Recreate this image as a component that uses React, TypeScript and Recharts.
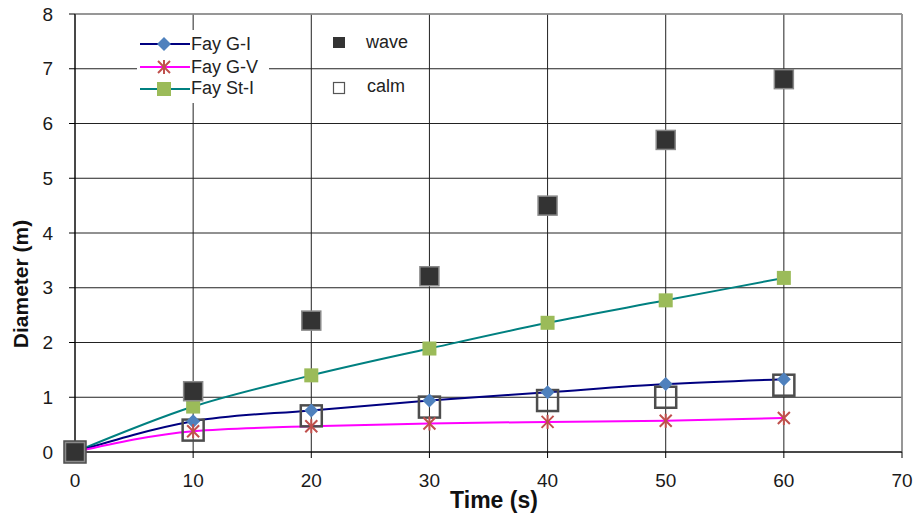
import React from "react";
import {
  ComposedChart,
  Line,
  Scatter,
  XAxis,
  YAxis,
  CartesianGrid,
  ReferenceLine,
} from "recharts";

const time = [0, 10, 20, 30, 40, 50, 60];
const fayGI = [0, 0.56, 0.76, 0.94, 1.09, 1.24, 1.33];
const fayGV = [0, 0.38, 0.47, 0.52, 0.55, 0.57, 0.62];
const fayStI = [0, 0.83, 1.4, 1.89, 2.36, 2.77, 3.18];
const wave = [0, 1.11, 2.4, 3.21, 4.5, 5.7, 6.81];
const calm = [0, 0.4, 0.66, 0.82, 0.94, 1.0, 1.22];

const xTicks = [0, 10, 20, 30, 40, 50, 60, 70];
const yTicks = [0, 1, 2, 3, 4, 5, 6, 7, 8];

const data = time.map((t, i) => ({
  t,
  fayGI: fayGI[i],
  fayGV: fayGV[i],
  fayStI: fayStI[i],
  wave: wave[i],
  calm: calm[i],
}));

const font = "'Liberation Sans', Arial, sans-serif";

function Diamond({ cx, cy }: any) {
  const r = 7;
  return (
    <polygon
      points={`${cx},${cy - r} ${cx + r},${cy} ${cx},${cy + r} ${cx - r},${cy}`}
      fill="#4f81bd"
    />
  );
}

function Star({ cx, cy }: any) {
  const r = 6;
  return (
    <g stroke="#c0504d" strokeWidth={2}>
      <line x1={cx - r} y1={cy - r} x2={cx + r} y2={cy + r} />
      <line x1={cx - r} y1={cy + r} x2={cx + r} y2={cy - r} />
      <line x1={cx} y1={cy - r - 1} x2={cx} y2={cy + r + 1} />
    </g>
  );
}

function GreenSquare({ cx, cy }: any) {
  return <rect x={cx - 7} y={cy - 7} width={14} height={14} fill="#9bbb59" />;
}

function WaveSquare({ cx, cy }: any) {
  return (
    <rect
      x={cx - 9.5}
      y={cy - 9.5}
      width={19}
      height={19}
      fill="#333333"
      stroke="#8a8a8a"
      strokeWidth={1.5}
    />
  );
}

function CalmSquare({ cx, cy }: any) {
  return (
    <rect
      x={cx - 10.5}
      y={cy - 10.5}
      width={21}
      height={21}
      fill="none"
      stroke="#4d4d4d"
      strokeWidth={2.5}
    />
  );
}

const tickStyle = { fontFamily: font, fontSize: 19, fill: "#1a1a1a" };

function YTitle() {
  return (
    <text
      x={20}
      y={284}
      transform="rotate(-90 20 284)"
      textAnchor="middle"
      dominantBaseline="central"
      fontFamily={font}
      fontSize={21}
      fontWeight="bold"
      fill="#111"
    >
      Diameter (m)
    </text>
  );
}

function XTitle() {
  return (
    <text
      x={494}
      y={500}
      textAnchor="middle"
      dominantBaseline="central"
      fontFamily={font}
      fontSize={23}
      fontWeight="bold"
      fill="#111"
    >
      Time (s)
    </text>
  );
}

const legendText: React.CSSProperties = {
  fontFamily: font,
  fontSize: 18,
  color: "#222",
  position: "absolute",
  whiteSpace: "nowrap",
};

function LineSample({ top, color, marker }: any) {
  return (
    <svg
      width={54}
      height={16}
      style={{ position: "absolute", left: 138, top: top - 8 }}
    >
      <line x1={2} y1={8} x2={52} y2={8} stroke={color} strokeWidth={2} />
      {marker === "diamond" && <Diamond cx={26} cy={8} />}
      {marker === "star" && <Star cx={26} cy={8} />}
      {marker === "square" && <GreenSquare cx={26} cy={8} />}
    </svg>
  );
}

export default function App() {
  return (
    <div
      style={{
        position: "absolute",
        left: 0,
        top: 0,
        width: 916,
        height: 515,
        background: "#fff",
      }}
    >
      <ComposedChart
        width={916}
        height={515}
        data={data}
        margin={{ top: 14, right: 14, left: 0, bottom: 0 }}
      >
        <CartesianGrid stroke="#222" strokeWidth={1} />
        <XAxis
          dataKey="t"
          type="number"
          domain={[0, 70]}
          ticks={xTicks}
          height={63}
          stroke="#000"
          tickSize={6}
          tickMargin={16}
          tick={tickStyle}
          label={<XTitle />}
        />
        <YAxis
          type="number"
          domain={[0, 8]}
          ticks={yTicks}
          width={75}
          stroke="#000"
          tickSize={6}
          tickMargin={16}
          tick={tickStyle}
          label={<YTitle />}
        />
        <ReferenceLine y={8} stroke="#9a9a9a" strokeWidth={1.5} />
        <ReferenceLine x={70} stroke="#9a9a9a" strokeWidth={1.5} />
        <Scatter
          dataKey="calm"
          isAnimationActive={false}
          shape={(p: any) => <CalmSquare cx={p.cx} cy={p.cy} />}
        />
        <Line
          type="monotone"
          dataKey="fayStI"
          stroke="#008080"
          strokeWidth={2}
          isAnimationActive={false}
          dot={(p: any) => <GreenSquare key={p.index} cx={p.cx} cy={p.cy} />}
        />
        <Line
          type="monotone"
          dataKey="fayGI"
          stroke="#000080"
          strokeWidth={2}
          isAnimationActive={false}
          dot={(p: any) => <Diamond key={p.index} cx={p.cx} cy={p.cy} />}
        />
        <Line
          type="monotone"
          dataKey="fayGV"
          stroke="#ff00ff"
          strokeWidth={2}
          isAnimationActive={false}
          dot={(p: any) => <Star key={p.index} cx={p.cx} cy={p.cy} />}
        />
        <Scatter
          dataKey="wave"
          isAnimationActive={false}
          shape={(p: any) => <WaveSquare cx={p.cx} cy={p.cy} />}
        />
      </ComposedChart>

      <div
        style={{
          position: "absolute",
          left: 137,
          top: 30,
          width: 132,
          height: 73,
          background: "#fff",
        }}
      />
      <LineSample top={44} color="#000080" marker="diamond" />
      <LineSample top={67} color="#ff00ff" marker="star" />
      <LineSample top={89} color="#008080" marker="square" />
      <div style={{ ...legendText, left: 191, top: 34 }}>Fay G-I</div>
      <div style={{ ...legendText, left: 191, top: 57 }}>Fay G-V</div>
      <div style={{ ...legendText, left: 191, top: 78 }}>Fay St-I</div>

      <svg
        width={20}
        height={70}
        style={{ position: "absolute", left: 329, top: 32 }}
      >
        <rect x={4} y={5} width={12} height={11} fill="#333" />
        <rect x={4.5} y={50.5} width={11} height={11} fill="#fff" stroke="#555" strokeWidth={1.2} />
      </svg>
      <div style={{ ...legendText, left: 366, top: 32 }}>wave</div>
      <div style={{ ...legendText, left: 367, top: 76 }}>calm</div>
    </div>
  );
}
